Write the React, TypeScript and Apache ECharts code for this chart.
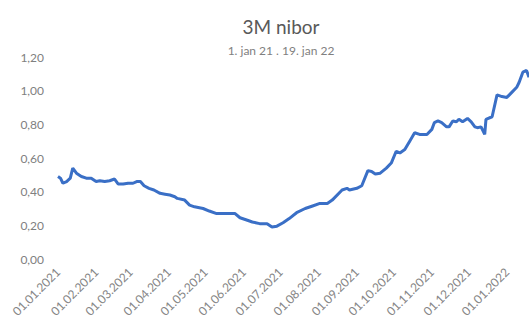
import React, { useEffect, useRef } from "react";
import * as echarts from "echarts";

const dates: string[] = [
  "2021-01-01", "2021-01-03", "2021-01-05", "2021-01-08", "2021-01-11", "2021-01-13",
  "2021-01-16", "2021-01-20", "2021-01-24", "2021-01-28", "2021-02-01", "2021-02-04",
  "2021-02-08", "2021-02-12", "2021-02-16", "2021-02-19", "2021-02-23", "2021-02-27",
  "2021-03-03", "2021-03-06", "2021-03-09", "2021-03-12", "2021-03-16", "2021-03-20",
  "2021-03-25", "2021-03-29", "2021-04-02", "2021-04-06", "2021-04-08", "2021-04-14",
  "2021-04-18", "2021-04-22", "2021-04-29", "2021-05-04", "2021-05-10", "2021-05-18",
  "2021-05-25", "2021-05-29", "2021-06-04", "2021-06-08", "2021-06-14", "2021-06-20",
  "2021-06-24", "2021-06-28", "2021-07-03", "2021-07-08", "2021-07-14", "2021-07-21",
  "2021-07-27", "2021-08-02", "2021-08-08", "2021-08-12", "2021-08-20", "2021-08-24",
  "2021-08-26", "2021-09-01", "2021-09-05", "2021-09-10", "2021-09-13", "2021-09-16",
  "2021-09-20", "2021-09-25", "2021-09-29", "2021-10-03", "2021-10-06", "2021-10-10",
  "2021-10-14", "2021-10-18", "2021-10-22", "2021-10-28", "2021-11-01", "2021-11-03",
  "2021-11-06", "2021-11-09", "2021-11-13", "2021-11-15", "2021-11-18", "2021-11-21",
  "2021-11-23", "2021-11-26", "2021-11-30", "2021-12-03", "2021-12-06", "2021-12-08",
  "2021-12-11", "2021-12-14", "2021-12-15", "2021-12-20", "2021-12-24", "2021-12-28",
  "2022-01-01", "2022-01-05", "2022-01-09", "2022-01-11", "2022-01-14", "2022-01-17",
  "2022-01-19",
];

const nibor: number[] = [
  0.49, 0.48, 0.45, 0.46, 0.48, 0.54,
  0.51, 0.49, 0.48, 0.48, 0.46, 0.465,
  0.46, 0.465, 0.475, 0.445, 0.445, 0.45,
  0.45, 0.46, 0.46, 0.435, 0.42, 0.41,
  0.39, 0.385, 0.38, 0.37, 0.36, 0.35,
  0.32, 0.31, 0.30, 0.285, 0.27, 0.27,
  0.27, 0.245, 0.23, 0.22, 0.21, 0.21,
  0.19, 0.195, 0.215, 0.24, 0.275, 0.30,
  0.315, 0.33, 0.33, 0.35, 0.41, 0.42,
  0.41, 0.42, 0.435, 0.525, 0.52, 0.505,
  0.51, 0.54, 0.57, 0.64, 0.63, 0.65,
  0.70, 0.75, 0.74, 0.74, 0.77, 0.81,
  0.82, 0.81, 0.785, 0.785, 0.82, 0.815,
  0.83, 0.815, 0.835, 0.815, 0.785, 0.78,
  0.785, 0.74, 0.83, 0.845, 0.975, 0.965,
  0.96, 0.99, 1.02, 1.05, 1.11, 1.12,
  1.08,
];

const titleText = "3M nibor";
const subtitleText = "1. jan 21 . 19. jan 22";

const FONT = "Lato, 'Open Sans', sans-serif";

export default function App() {
  const ref = useRef<HTMLDivElement>(null);
  useEffect(() => {
    if (!ref.current) return;
    const chart = echarts.init(ref.current, undefined, { renderer: "svg" });
    const pad = (n: number) => (n < 10 ? "0" + n : "" + n);
    chart.setOption({
      animation: false,
      backgroundColor: "#ffffff",
      textStyle: { fontFamily: FONT },
      title: [
        {
          text: titleText,
          left: 276,
          top: 12,
          textAlign: "center",
          textStyle: { fontFamily: FONT, fontSize: 19, fontWeight: "normal", color: "#595959" },
        },
        {
          text: subtitleText,
          left: 276,
          top: 39,
          textAlign: "center",
          textStyle: { fontFamily: FONT, fontSize: 12, fontWeight: "normal", color: "#808080" },
        },
      ],
      grid: { left: 58, right: 0, top: 57, bottom: 63, containLabel: false },
      xAxis: {
        type: "time",
        min: new Date(2021, 0, 1).getTime(),
        max: new Date(2022, 0, 19).getTime(),
        minInterval: 28 * 86400000,
        maxInterval: 31 * 86400000,
        axisLine: { show: false },
        axisTick: { show: false },
        splitLine: { show: false },
        axisLabel: {
          rotate: 45,
          margin: 11,
          fontFamily: FONT,
          fontSize: 12,
          color: "#858585",
          hideOverlap: false,
          showMaxLabel: false,
          formatter: (v: number) => {
            const d = new Date(v);
            return pad(d.getDate()) + "." + pad(d.getMonth() + 1) + "." + d.getFullYear();
          },
        },
      },
      yAxis: {
        type: "value",
        min: 0,
        max: 1.2,
        interval: 0.2,
        axisLine: { show: false },
        axisTick: { show: false },
        splitLine: { show: false },
        axisLabel: {
          margin: 14,
          fontFamily: FONT,
          fontSize: 12,
          color: "#808080",
          formatter: (v: number) => v.toFixed(2).replace(".", ","),
        },
      },
      series: [
        {
          type: "line",
          data: dates.map((d, i) => [d, nibor[i]]),
          showSymbol: false,
          smooth: false,
          lineStyle: { color: "#3a6fc6", width: 3 },
          itemStyle: { color: "#3a6fc6" },
        },
      ],
    });
    return () => chart.dispose();
  }, []);
  return <div ref={ref} style={{ width: 529, height: 322, position: "absolute", left: 0, top: 0 }} />;
}
